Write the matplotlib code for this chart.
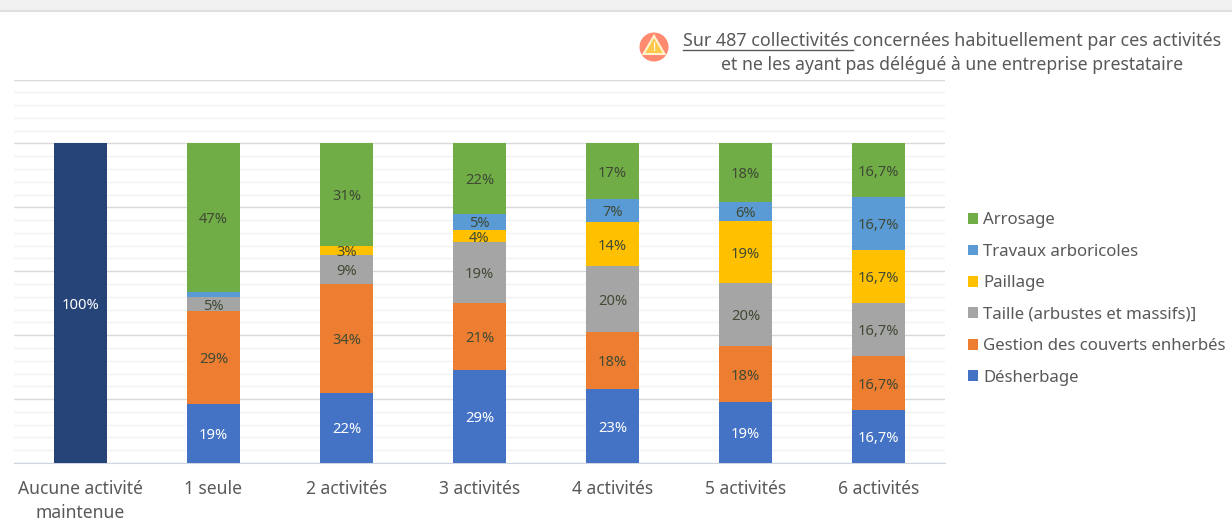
import matplotlib.pyplot as plt
from matplotlib.patches import Circle, Polygon, Rectangle
from matplotlib.ticker import MultipleLocator

plt.rcParams["font.family"] = ["Noto Sans", "DejaVu Sans"]

categories = ["Aucune activité\nmaintenue", "1 seule", "2 activités", "3 activités",
              "4 activités", "5 activités", "6 activités"]

aucune = [100, 0, 0, 0, 0, 0, 0]
desherbage = [0, 18.5, 22, 29, 23, 19, 16.7]
gestion = [0, 29, 34, 21, 18, 17.5, 16.7]
taille = [0, 4.5, 9, 19, 20.5, 19.7, 16.6]
paillage = [0, 0, 3, 4, 14, 19.4, 16.7]
travaux = [0, 1.5, 0, 5, 7, 6, 16.6]
arrosage = [0, 46.5, 32, 22, 17.5, 18.4, 16.7]

aucune_labels = ["100%", "", "", "", "", "", ""]
desherbage_labels = ["", "19%", "22%", "29%", "23%", "19%", "16,7%"]
gestion_labels = ["", "29%", "34%", "21%", "18%", "18%", "16,7%"]
taille_labels = ["", "5%", "9%", "19%", "20%", "20%", "16,7%"]
paillage_labels = ["", "", "3%", "4%", "14%", "19%", "16,7%"]
travaux_labels = ["", "", "", "5%", "7%", "6%", "16,7%"]
arrosage_labels = ["", "47%", "31%", "22%", "17%", "18%", "16,7%"]

GREY = "#595959"
DARK = "#404a35"

# (values, labels, colour, label colour, legend name), bottom to top
series = [
    (aucune, aucune_labels, "#264478", "white", None),
    (desherbage, desherbage_labels, "#4472c4", "white", "Désherbage"),
    (gestion, gestion_labels, "#ed7d31", DARK, "Gestion des couverts enherbés"),
    (taille, taille_labels, "#a5a5a5", DARK, "Taille (arbustes et massifs)]"),
    (paillage, paillage_labels, "#ffc000", DARK, "Paillage"),
    (travaux, travaux_labels, "#5b9bd5", DARK, "Travaux arboricoles"),
    (arrosage, arrosage_labels, "#70ad47", DARK, "Arrosage"),
]

W, H = 1232, 522
fig = plt.figure(figsize=(W / 100, H / 100), dpi=100)

# overlay in pixel coordinates for the window band and the note
bg = fig.add_axes([0, 0, 1, 1])
bg.set_xlim(0, W)
bg.set_ylim(H, 0)
bg.axis("off")
bg.add_patch(Rectangle((0, 0), W, 10, color="#f0f0f0", lw=0))
bg.plot([0, W], [10.5, 10.5], color="#d9d9d9", lw=1.2)

bg.add_patch(Circle((654, 47), 14.5, color="#ff8a70", lw=0))
bg.add_patch(Polygon([(654, 36), (643.5, 54), (664.5, 54)], closed=True,
                     facecolor="#ffc84a", edgecolor="#fff3d0", lw=1.5))
bg.text(654, 47.5, "!", ha="center", va="center", fontsize=9, color="white", fontweight="bold")

note_a = bg.text(683, 41.5, "Sur 487 collectivités ", ha="left", va="center", fontsize=12.9, color=GREY)
fig.canvas.draw()
box = note_a.get_window_extent()
bg.plot([box.x0, box.x1], [49.5, 49.5], color=GREY, lw=1)
bg.text(box.x1, 41.5, "concernées habituellement par ces activités", ha="left", va="center",
        fontsize=12.9, color=GREY)
bg.text(952, 64.5, "et ne les ayant pas délégué à une entreprise prestataire", ha="center",
        va="center", fontsize=12.7, color=GREY)

# plot area: x 14-945 px, y 79.5-463 px
ax = fig.add_axes([14 / W, 1 - 463 / H, 931 / W, 383.5 / H])
ax.patch.set_alpha(0)

x = list(range(len(categories)))
bottom = [0] * len(categories)
for values, labels, colour, label_colour, name in series:
    ax.bar(x, values, 0.4, bottom=bottom, color=colour, label=name, zorder=3)
    for i, label in enumerate(labels):
        if label:
            ax.annotate(label, (i, bottom[i] + values[i] / 2), xytext=(0, -1.5),
                        textcoords="offset points", ha="center", va="center",
                        fontsize=10.6, color=label_colour, zorder=4)
    bottom = [b + v for b, v in zip(bottom, values)]

ax.set_xlim(-0.5, 6.5)
ax.set_ylim(0, 120)
ax.yaxis.set_major_locator(MultipleLocator(20))
ax.yaxis.set_minor_locator(MultipleLocator(4))
ax.grid(axis="y", which="major", color="#d9d9d9", lw=1, zorder=1)
ax.grid(axis="y", which="minor", color="#f2f2f2", lw=1, zorder=0)
ax.tick_params(axis="y", which="both", left=False, labelleft=False)
ax.tick_params(axis="x", length=0, pad=12, labelsize=12.6, labelcolor=GREY)
ax.set_xticks(x)
ax.set_xticklabels(categories, linespacing=1.42)
for side in ["top", "right", "left"]:
    ax.spines[side].set_visible(False)
ax.spines["bottom"].set_color("#cfd5e2")

handles, names = ax.get_legend_handles_labels()
legend = fig.legend(handles[::-1], names[::-1], loc="center left",
                    bbox_to_anchor=(968 / W, 1 - 299 / H), frameon=False, fontsize=12.1,
                    labelcolor=GREY, handlelength=0.6, handleheight=0.6, handletextpad=0.3,
                    labelspacing=0.92, borderpad=0, borderaxespad=0)

fig.savefig("out.png", dpi=100)
